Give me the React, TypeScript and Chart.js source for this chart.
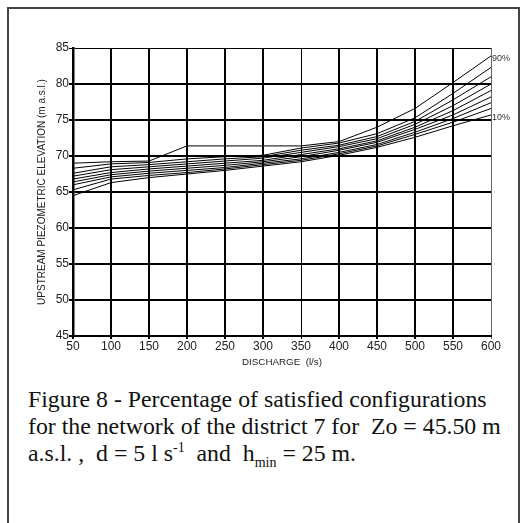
import React, { useEffect, useRef } from "react";
import { Chart, registerables } from "chart.js";

Chart.register(...registerables);

const discharge = [50, 100, 150, 200, 250, 300, 350, 400, 450, 500, 550, 600];
const p90 = [69.0, 69.2, 69.3, 71.4, 71.4, 71.4, 71.4, 72.0, 74.0, 76.6, 80.2, 83.9];
const p80 = [68.3, 68.9, 69.1, 69.6, 69.9, 70.1, 71.1, 71.8, 73.1, 75.3, 78.7, 82.3];
const p70 = [67.6, 68.5, 68.8, 69.2, 69.6, 69.9, 70.8, 71.5, 72.7, 74.8, 77.8, 81.0];
const p60 = [67.2, 68.1, 68.5, 68.9, 69.3, 69.7, 70.5, 71.3, 72.4, 74.4, 77.0, 80.0];
const p50 = [66.8, 67.7, 68.2, 68.6, 69.0, 69.4, 70.2, 71.0, 72.1, 74.0, 76.3, 79.1];
const p40 = [66.4, 67.4, 67.9, 68.3, 68.7, 69.2, 69.9, 70.8, 71.9, 73.7, 75.7, 78.2];
const p30 = [66.0, 67.1, 67.6, 68.0, 68.4, 69.0, 69.6, 70.5, 71.6, 73.3, 75.2, 77.4];
const p20 = [65.3, 66.8, 67.3, 67.7, 68.2, 68.8, 69.4, 70.3, 71.4, 73.0, 74.7, 76.6];
const p10 = [64.5, 66.3, 67.0, 67.5, 68.0, 68.6, 69.2, 70.1, 71.2, 72.6, 74.2, 75.7];

const seriesNames = ["90%", "80%", "70%", "60%", "50%", "40%", "30%", "20%", "10%"];
const seriesValues = [p90, p80, p70, p60, p50, p40, p30, p20, p10];
const endLabels = ["90%", "10%"];

const xTitle = "DISCHARGE  (l/s)";
const yTitle = "UPSTREAM PIEZOMETRIC ELEVATION (m a.s.l.)";

const SANS = "'Liberation Sans', Arial, sans-serif";

const endLabelPlugin = {
  id: "endLabels",
  afterDatasetsDraw(chart: any) {
    const { ctx, scales } = chart;
    const xs = scales.x;
    const ys = scales.y;
    ctx.save();
    ctx.font = `9px ${SANS}`;
    ctx.fillStyle = "#333";
    ctx.textAlign = "left";
    ctx.textBaseline = "middle";
    endLabels.forEach((lab) => {
      const idx = seriesNames.indexOf(lab);
      const vals = seriesValues[idx];
      const x = xs.getPixelForValue(discharge[discharge.length - 1]) + 1;
      const y = ys.getPixelForValue(vals[vals.length - 1]) + 3;
      ctx.fillText(lab, x, y);
    });
    ctx.restore();
  },
};

function ChartView() {
  const ref = useRef<HTMLCanvasElement | null>(null);
  useEffect(() => {
    if (!ref.current) return;
    const chart = new Chart(ref.current, {
      type: "line",
      data: {
        datasets: seriesValues.map((vals, i) => ({
          label: seriesNames[i],
          data: vals.map((v, j) => ({ x: discharge[j], y: v })),
          borderColor: "#000",
          borderWidth: 1,
          pointRadius: 0,
          tension: 0,
          fill: false,
        })),
      },
      options: {
        animation: false,
        responsive: false,
        devicePixelRatio: 1,
        layout: { padding: { left: 0, right: 36, top: 48, bottom: 0 } },
        plugins: { legend: { display: false }, tooltip: { enabled: false } },
        scales: {
          x: {
            type: "linear",
            min: 50,
            max: 600,
            afterFit: (s: any) => {
              s.height = 39;
            },
            ticks: {
              stepSize: 50,
              padding: 0,
              color: "#222",
              font: { family: SANS, size: 12 },
              maxRotation: 0,
            },
            grid: {
              color: (c: any) => (c.tick && c.tick.value === 600 ? "#666" : "#000"),
              lineWidth: (c: any) =>
                c.tick && (c.tick.value === 350 || c.tick.value === 600) ? 1 : 2,
              tickLength: 3,
            },
            border: { display: true, color: "#000", width: 2 },
            title: {
              display: true,
              text: xTitle,
              color: "#222",
              font: { family: SANS, size: 9.8 },
              padding: { top: 0, bottom: 7 },
            },
          },
          y: {
            type: "linear",
            min: 45,
            max: 85,
            afterFit: (s: any) => {
              s.width = 73;
            },
            ticks: {
              stepSize: 5,
              padding: 0,
              color: "#222",
              font: { family: SANS, size: 12 },
            },
            grid: {
              color: "#000",
              lineWidth: (c: any) => (c.tick && c.tick.value === 85 ? 1 : 2),
              tickLength: 4,
            },
            border: { display: true, color: "#000", width: 2.5 },
            title: {
              display: true,
              text: yTitle,
              color: "#222",
              font: { family: SANS, size: 10 },
              padding: { top: 36, bottom: 0 },
            },
          },
        },
      },
      plugins: [endLabelPlugin],
    });
    return () => chart.destroy();
  }, []);
  return (
    <canvas
      ref={ref}
      width={527}
      height={375}
      style={{ position: "absolute", left: 0, top: 0, width: 527, height: 375 }}
    />
  );
}

export default function App() {
  return (
    <div style={{ position: "absolute", left: 0, top: 0, width: 527, height: 523, background: "#fff", overflow: "hidden" }}>
      <div
        style={{
          position: "absolute",
          left: 7,
          top: 7,
          width: 513,
          height: 540,
          border: "2px solid #444",
          boxSizing: "border-box",
        }}
      />
      <ChartView />
      <div
        style={{
          position: "absolute",
          left: 28,
          top: 386,
          fontFamily: "'Liberation Serif', 'Times New Roman', serif",
          fontSize: 23.8,
          lineHeight: "27px",
          color: "#111",
          whiteSpace: "pre",
        }}
      >
        {"Figure 8 - Percentage of satisfied configurations\n"}
        {"for the network of the district 7 for  Zo = 45.50 m\n"}
        {"a.s.l. ,  d = 5 l s"}
        <sup style={{ fontSize: 14, lineHeight: 0 }}>-1</sup>
        {"  and  h"}
        <sub style={{ fontSize: 14, lineHeight: 0 }}>min</sub>
        {" = 25 m."}
      </div>
    </div>
  );
}
